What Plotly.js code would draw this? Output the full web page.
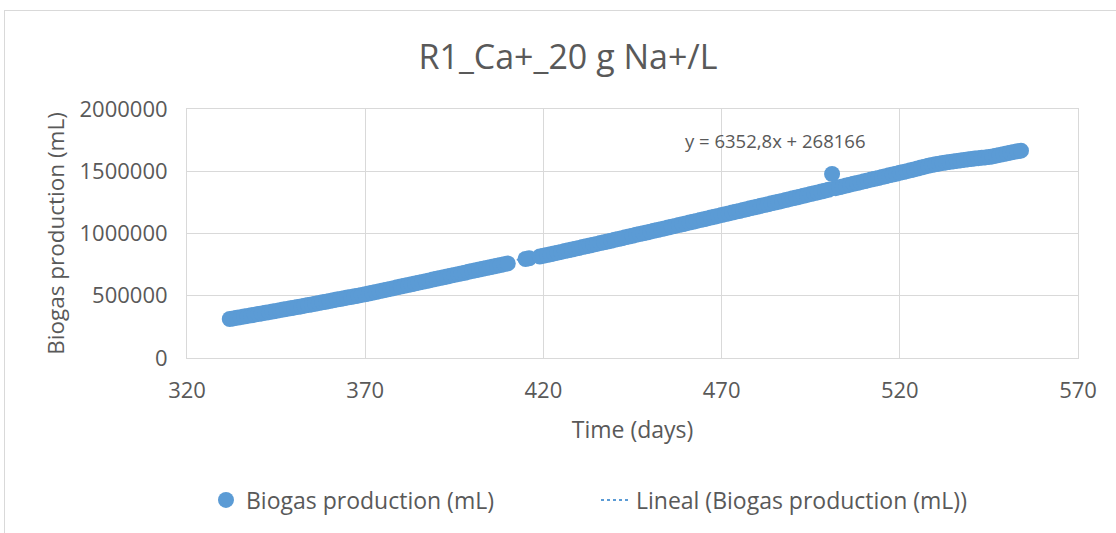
<!DOCTYPE html>
<html>
<head>
<meta charset="utf-8">
<script src="https://cdn.plot.ly/plotly-3.0.1.min.js"></script>
<style>
  html, body { margin: 0; padding: 0; background: #ffffff; overflow: hidden; }
  #chart { position: absolute; left: 0; top: 0; width: 1116px; height: 533px; }
  #frame { position: absolute; left: 4px; top: 10px; width: 1130px; height: 540px;
           border: 1px solid #d9d9d9; pointer-events: none; }
</style>
</head>
<body>
<div id="chart"></div>
<div id="frame"></div>
<script>
// Time (days)
const days = [
  332,333,334,335,336,337,338,339,340,341,342,343,344,345,346,347,348,349,350,351,352,353,354,
  355,356,357,358,359,360,361,362,363,364,365,366,367,368,369,370,
  371,372,373,374,375,376,377,378,379,380,381,382,383,384,385,386,387,388,389,390,
  391,392,393,394,395,396,397,398,399,400,401,402,403,404,405,406,407,408,409,410,
  415,416,
  419,420,421,422,423,424,425,426,427,428,429,430,431,432,433,434,435,
  436,437,438,439,440,441,442,443,444,445,446,447,448,449,450,451,452,453,
  454,455,456,457,458,459,460,461,462,463,464,465,466,467,468,469,470,
  471,472,473,474,475,476,477,478,479,480,481,482,483,484,485,486,487,
  488,489,490,491,492,493,494,495,496,497,498,499,500,501,502,503,504,
  505,506,507,508,509,510,511,512,513,514,515,516,517,518,519,520,521,
  522,523,524,525,526,527,528,529,530,531,532,533,534,535,536,537,538,
  539,540,541,542,543,544,545,546,547,548,549,550,551,552,553,554
];
// Biogas production (mL)
const biogas = [
  313000,318000,323000,328000,333000,338000,343000,348000,353000,358000,363000,368000,373000,378000,384000,389000,394000,399000,404000,409000,414000,420000,425000,
  430000,436000,441000,447000,452000,458000,463000,469000,474000,480000,485000,490000,496000,501000,507000,512000,
  518000,524000,530000,537000,543000,549000,555000,561000,568000,574000,580000,586000,592000,599000,605000,611000,617000,623000,630000,636000,
  642000,648000,654000,661000,667000,673000,679000,685000,692000,698000,704000,710000,716000,723000,729000,735000,741000,747000,754000,760000,
  795000,801000,
  815000,821000,827000,833000,840000,846000,852000,859000,865000,871000,878000,884000,891000,897000,903000,910000,916000,
  923000,929000,936000,942000,949000,956000,962000,969000,975000,982000,989000,995000,1002000,1008000,1015000,1022000,1028000,1035000,
  1041000,1048000,1055000,1061000,1068000,1074000,1081000,1088000,1094000,1101000,1108000,1114000,1121000,1128000,1134000,1141000,1148000,
  1155000,1161000,1168000,1175000,1181000,1188000,1195000,1202000,1208000,1215000,1222000,1228000,1235000,1242000,1248000,1255000,1262000,
  1269000,1276000,1283000,1289000,1296000,1303000,1310000,1317000,1324000,1330000,1337000,1344000,1351000,1478000,1364000,1371000,1378000,
  1385000,1392000,1399000,1405000,1412000,1419000,1426000,1433000,1439000,1446000,1453000,1460000,1467000,1473000,1480000,1487000,1494000,
  1501000,1508000,1515000,1522000,1530000,1537000,1544000,1550000,1556000,1561000,1566000,1571000,1575000,1579000,1583000,1587000,1591000,
  1595000,1598000,1602000,1605000,1608000,1611000,1614000,1619000,1625000,1631000,1637000,1643000,1649000,1655000,1660000,1665000
];
const xTicks = [320, 370, 420, 470, 520, 570];
const yTicks = [0, 500000, 1000000, 1500000, 2000000];
const seriesName = 'Biogas production (mL)';
const trendName = 'Lineal (Biogas production (mL))';
const equationText = 'y = 6352,8x + 268166';
const titleText = 'R1_Ca+_20 g Na+/L';

// least-squares linear trendline computed from the data
const n = days.length;
let sx = 0, sy = 0, sxx = 0, sxy = 0;
for (let i = 0; i < n; i++) { sx += days[i]; sy += biogas[i]; sxx += days[i]*days[i]; sxy += days[i]*biogas[i]; }
const slope = (n*sxy - sx*sy) / (n*sxx - sx*sx);
const intercept = (sy - slope*sx) / n;
const xMin = Math.min(...days), xMax = Math.max(...days);
const trendX = [xMin, xMax];
const trendY = trendX.map(v => slope*v + intercept);

const FONT = 'Open Sans, DejaVu Sans, sans-serif';
const TXT = '#595959';
const BLUE = '#5b9bd5';
const GRID = '#d9d9d9';

const traces = [
  { x: trendX, y: trendY, type: 'scatter', mode: 'lines', name: trendName,
    line: { color: BLUE, width: 2, dash: 'dot' }, legendrank: 2, hoverinfo: 'skip' },
  { x: days, y: biogas, type: 'scatter', mode: 'markers', name: seriesName,
    marker: { color: BLUE, size: 16, line: { width: 0 } }, legendrank: 1 }
];

const layout = {
  width: 1116, height: 533,
  paper_bgcolor: 'rgba(0,0,0,0)', plot_bgcolor: '#ffffff',
  margin: { l: 187, r: 38, t: 109, b: 175 },
  font: { family: FONT, color: TXT, size: 22 },
  title: { text: titleText, font: { family: FONT, size: 34, color: TXT },
           x: 0.509, xanchor: 'center', xref: 'container',
           y: 1 - 57/533, yanchor: 'middle', yref: 'container' },
  xaxis: {
    range: [320, 570], tickmode: 'array', tickvals: xTicks, ticktext: xTicks.map(String),
    showgrid: true, gridcolor: GRID, gridwidth: 1,
    showline: true, linecolor: GRID, linewidth: 1, mirror: true,
    zeroline: false, ticks: 'outside', ticklen: 13, tickcolor: 'rgba(0,0,0,0)',
    tickfont: { family: FONT, size: 22, color: TXT },
    title: { text: 'Time (days)', font: { family: FONT, size: 23, color: TXT }, standoff: 18 },
    automargin: false, fixedrange: true
  },
  yaxis: {
    range: [0, 2000000], tickmode: 'array', tickvals: yTicks, ticktext: yTicks.map(String),
    showgrid: true, gridcolor: GRID, gridwidth: 1,
    showline: true, linecolor: GRID, linewidth: 1, mirror: true,
    zeroline: false, ticks: 'outside', ticklen: 14, tickcolor: 'rgba(0,0,0,0)',
    tickfont: { family: FONT, size: 22, color: TXT },
    title: { text: 'Biogas production (mL)', font: { family: FONT, size: 22.5, color: TXT }, standoff: 8 },
    automargin: false, fixedrange: true
  },
  showlegend: true,
  legend: {
    orientation: 'h', x: 0.0213, xanchor: 'left', y: (358-500)/249, yanchor: 'middle',
    font: { family: FONT, size: 23, color: TXT }, bgcolor: 'rgba(0,0,0,0)',
    entrywidth: 345, entrywidthmode: 'pixels', itemclick: false, itemdoubleclick: false
  },
  annotations: [
    { text: equationText, x: 485, y: 1751000, xref: 'x', yref: 'y', showarrow: false,
      xanchor: 'center', yanchor: 'middle', font: { family: FONT, size: 18.5, color: TXT } }
  ]
};

Plotly.newPlot('chart', traces, layout, { displayModeBar: false, staticPlot: true });
</script>
</body>
</html>
